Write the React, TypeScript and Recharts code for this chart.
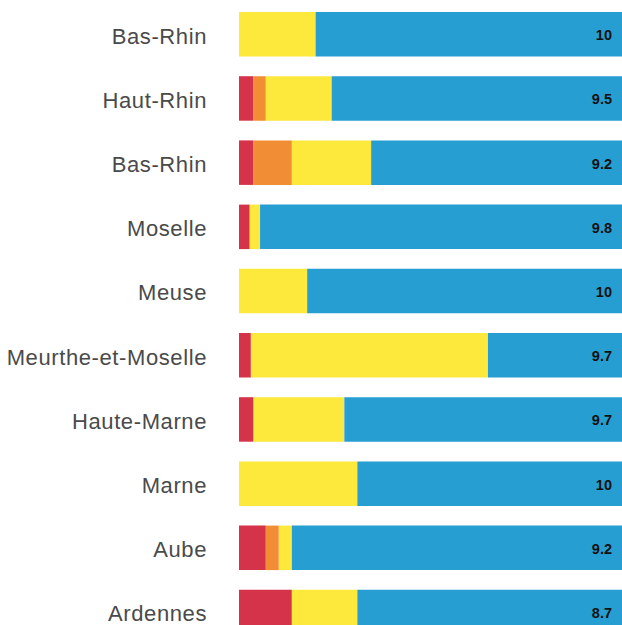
import React from "react"
import { BarChart, Bar, XAxis, YAxis, LabelList } from "recharts"

// departments, top to bottom
const departments = [
  "Bas-Rhin",
  "Haut-Rhin",
  "Bas-Rhin",
  "Moselle",
  "Meuse",
  "Meurthe-et-Moselle",
  "Haute-Marne",
  "Marne",
  "Aube",
  "Ardennes"
]

// share of each segment, in %
const red = [0, 3.7, 3.7, 2.8, 0, 3.1, 3.8, 0, 7.0, 13.8]
const orange = [0, 3.3, 10.1, 0, 0, 0, 0, 0, 3.4, 0]
const yellow = [20, 17.2, 20.7, 2.7, 17.8, 61.9, 23.7, 30.9, 3.4, 17.1]
const blue = [80, 75.8, 65.5, 94.5, 82.2, 35.0, 72.5, 69.1, 86.2, 69.1]

// score printed at the end of each bar
const scores = ["10", "9.5", "9.2", "9.8", "10", "9.7", "9.7", "10", "9.2", "8.7"]

const data = departments.map((name, i) => ({
  name,
  red: red[i],
  orange: orange[i],
  yellow: yellow[i],
  blue: blue[i],
  score: scores[i]
}))

const DeptTick = ({ x, y, payload }: any) => (
  <text
    x={x}
    y={y + 9.5}
    textAnchor="end"
    fill="#4a4a4a"
    fontSize={22}
    letterSpacing={0.6}
    fontFamily="'Liberation Sans', Arial, sans-serif"
  >
    {payload.value}
  </text>
)

const ScoreLabel = ({ x, y, width, height, value }: any) => (
  <text
    x={x + width - 10}
    y={y + height / 2 + 6}
    textAnchor="end"
    fill="#111"
    fontSize={14.5}
    fontWeight="bold"
    fontFamily="'Liberation Sans', Arial, sans-serif"
  >
    {value}
  </text>
)

export default function App() {
  return (
    <div
      style={{
        position: "absolute",
        top: 0,
        left: 0,
        width: 622,
        height: 625,
        overflow: "hidden",
        background: "#fff"
      }}
    >
      <BarChart
        width={622}
        height={644}
        layout="vertical"
        data={data}
        margin={{ top: 2, right: 0, bottom: 0, left: 0 }}
        barSize={44.5}
      >
        <XAxis type="number" domain={[0, 100]} hide />
        <YAxis
          type="category"
          dataKey="name"
          width={239}
          axisLine={false}
          tickLine={false}
          tickSize={0}
          tickMargin={32}
          interval={0}
          tick={<DeptTick />}
        />
        <Bar dataKey="red" stackId="a" fill="#d5334a" isAnimationActive={false} />
        <Bar dataKey="orange" stackId="a" fill="#f18d35" isAnimationActive={false} />
        <Bar dataKey="yellow" stackId="a" fill="#fce93c" isAnimationActive={false} />
        <Bar dataKey="blue" stackId="a" fill="#279ed2" isAnimationActive={false}>
          <LabelList dataKey="score" content={<ScoreLabel />} />
        </Bar>
      </BarChart>
    </div>
  )
}
